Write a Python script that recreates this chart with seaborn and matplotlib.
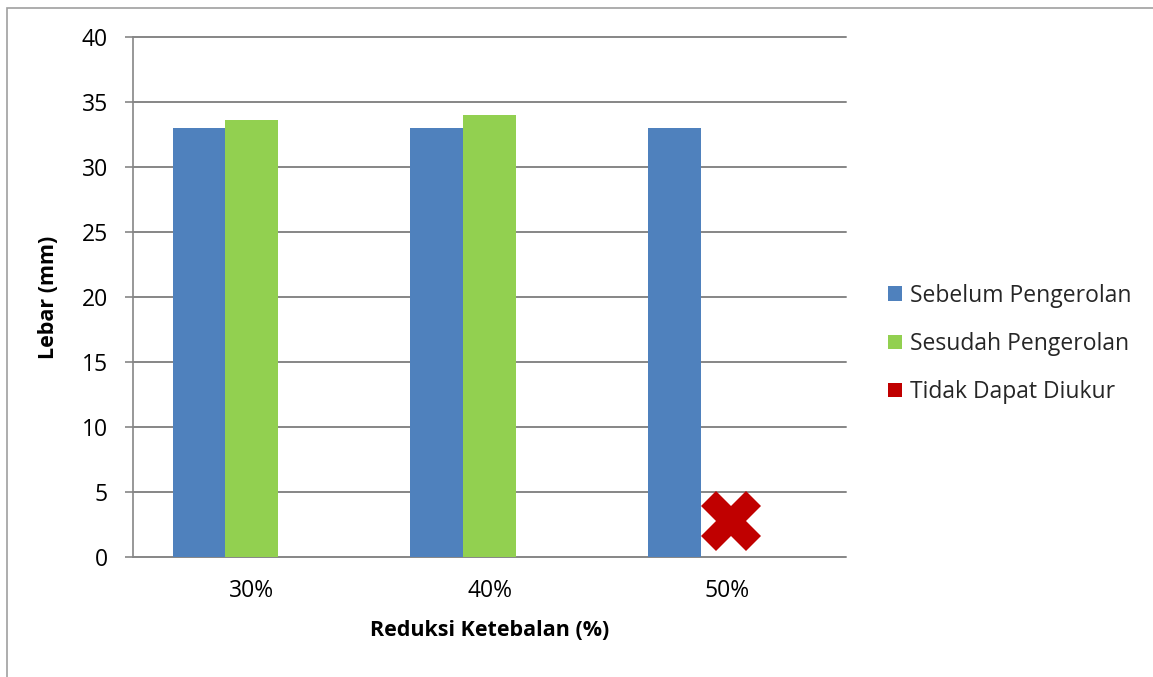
import numpy as np
import pandas as pd
import matplotlib
matplotlib.use("Agg")
import matplotlib.pyplot as plt
import seaborn as sns
from matplotlib.patches import Rectangle

# Thickness reduction levels and the three series
reductions = ["30%", "40%", "50%"]
series = ["Sebelum Pengerolan", "Sesudah Pengerolan", "Tidak Dapat Diukur"]
width_before = [33.0, 33.0, 33.0]
width_after = [33.6, 34.0, 0.0]
width_unmeasured = [0.0, 0.0, 0.0]
# the 50% sample after rolling could not be measured; flagged with a cross
unmeasured_level = 2.8
unmeasured_at = "50%"
colors = ["#4F81BD", "#92D050", "#C00000"]

df = pd.DataFrame({
    "Reduksi": reductions * 3,
    "Lebar": width_before + width_after + width_unmeasured,
    "Seri": [s for s in series for _ in reductions],
})

sns.set_theme(style="white")
plt.rcParams["font.family"] = ["Open Sans", "DejaVu Sans"]

fig = plt.figure(figsize=(11.53, 6.77), dpi=100)
ax = fig.add_axes([133 / 1153, 1 - 557 / 677, 713 / 1153, 520 / 677])

sns.barplot(data=df, x="Reduksi", y="Lebar", hue="Seri", hue_order=series,
            order=reductions, palette=colors, saturation=1, width=0.667,
            gap=0, errorbar=None, linewidth=0, ax=ax)

# cross marker over the missing "after" bar (middle slot of the group)
ax.plot([reductions.index(unmeasured_at) + 0.015], [unmeasured_level],
        marker="X", markersize=43, color="#C00000", linestyle="none",
        clip_on=False, markeredgewidth=0, zorder=5)

grid_c = "#868686"
ax.set_ylim(0, 40)
ax.set_xlim(-0.5, 2.5)
ax.set_yticks(np.arange(0, 41, 5))
ax.yaxis.grid(True, color=grid_c, linewidth=1.4)
for gl in ax.get_ygridlines():
    gl.set_clip_on(False)
ax.set_axisbelow(True)
for side in ["top", "right", "bottom"]:
    ax.spines[side].set_visible(False)
ax.spines["left"].set_color(grid_c)
ax.spines["left"].set_linewidth(1.2)

ax.tick_params(axis="y", which="major", left=True, length=6, width=1.2,
               color=grid_c, pad=12, labelsize=16.5, labelcolor="#000000")
ax.tick_params(axis="x", bottom=False, length=0, pad=16, labelsize=16.5,
               labelcolor="#000000")

ax.set_ylabel("Lebar (mm)", fontsize=15.5, fontweight="bold",
              color="#000000")
ax.yaxis.set_label_coords(-(133 - 59) / 713, 0.5)
ax.set_xlabel("Reduksi Ketebalan (%)", fontsize=15.5, fontweight="bold",
              labelpad=12, color="#000000")

handles, labels = ax.get_legend_handles_labels()
ax.get_legend().remove()
fig.legend(handles, labels, loc="center left",
           bbox_to_anchor=(888 / 1153, 1 - 344 / 677), frameon=False,
           fontsize=16.5, handlelength=0.62, handleheight=0.62,
           handletextpad=0.35, labelspacing=1.05, borderaxespad=0,
           borderpad=0)

# page frame around the chart object
fig.patches.append(Rectangle((7 / 1153, -0.1), 1.2, 1 - 8 / 677 + 0.1,
                             transform=fig.transFigure, fill=False,
                             edgecolor="#A0A0A0", linewidth=1.2))

fig.savefig("out.png", dpi=100)
